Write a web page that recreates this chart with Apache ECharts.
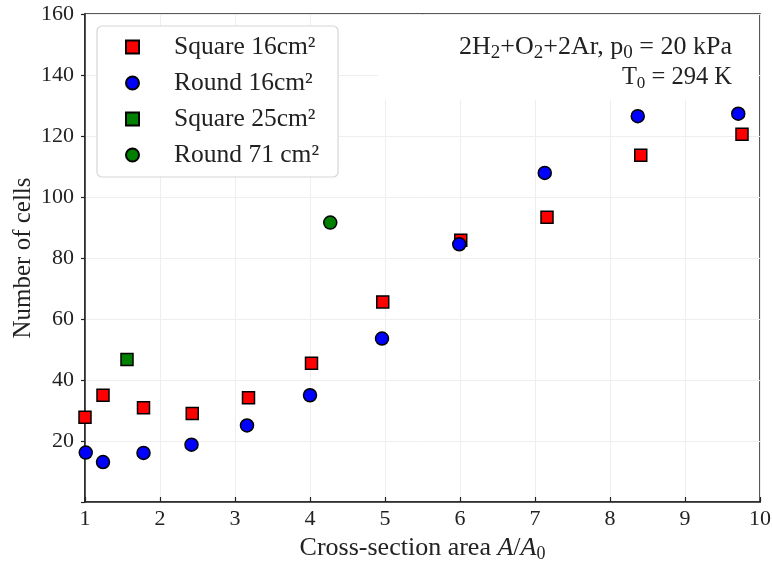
<!DOCTYPE html>
<html>
<head>
<meta charset="utf-8">
<script src="https://cdn.jsdelivr.net/npm/echarts@6/dist/echarts.min.js"></script>
<style>
  html, body { margin: 0; padding: 0; background: #fff; }
  #main { width: 772px; height: 563px; }
</style>
</head>
<body>
<div id="main"></div>
<script>
// data: [A/A0, number of cells]
var square16 = [[1.00, 27.8], [1.24, 35.0], [1.78, 30.9], [2.43, 29.0], [3.18, 34.2],
                [4.02, 45.5], [4.97, 65.6], [6.01, 85.8], [7.16, 93.4], [8.41, 113.7], [9.76, 120.6]];
var round16 = [[1.01, 16.2], [1.24, 13.1], [1.78, 16.1], [2.42, 18.8], [3.16, 25.1],
               [4.00, 35.0], [4.96, 53.6], [5.99, 84.5], [7.13, 107.9], [8.37, 126.5], [9.71, 127.3]];
var square25 = [[1.56, 46.7]];
var round71 = [[4.27, 91.6]];

var seriesNames = ['Square 16cm²', 'Round 16cm²', 'Square 25cm²', 'Round 71 cm²'];
var xTicks = [1, 2, 3, 4, 5, 6, 7, 8, 9, 10];
var yTicks = [20, 40, 60, 80, 100, 120, 140, 160];

var serif = '"Liberation Serif", "DejaVu Serif", serif';
var ink = '#222';

var myChart = echarts.init(document.getElementById('main'));

function pts(name, data, symbol, color, size) {
    return {
        name: name,
        type: 'scatter',
        data: data,
        symbol: symbol,
        symbolSize: size,
        itemStyle: { color: color, borderColor: '#000', borderWidth: 1.5, opacity: 1 },
        emphasis: { disabled: true }
    };
}

// rich text styles for the annotation (s = subscript)
function annRich(big, small, drop) {
    return {
        n: { fontFamily: serif, fontSize: big, fill: ink },
        s: { fontFamily: serif, fontSize: small, fill: ink, padding: [drop, 0, 0, 0] }
    };
}

myChart.setOption({
    animation: false,
    backgroundColor: '#fff',
    grid: {
        left: 85, right: 12, top: 14, bottom: 61,
        outerBoundsMode: 'none',
        show: true, borderColor: ink, borderWidth: 1.5, backgroundColor: 'transparent'
    },
    legend: {
        data: seriesNames.map(function (n, i) {
            return { name: n, icon: i % 2 === 0 ? 'rect' : 'circle' };
        }),
        orient: 'vertical',
        left: 97, top: 26,
        padding: [8, 19, 9, 28],
        itemGap: 10,
        itemWidth: 13, itemHeight: 13,
        backgroundColor: '#fff',
        borderColor: '#d6d6d6', borderWidth: 1.2, borderRadius: 5,
        textStyle: { fontFamily: serif, fontSize: 25.5, color: ink, padding: [0, 0, 0, 30] }
    },
    xAxis: {
        type: 'value',
        min: 1, max: 10, interval: 1,
        name: '{n|Cross-section area }{i|A}{n|/}{i|A}{s|0}',
        nameLocation: 'middle', nameGap: 32,
        nameTextStyle: {
            rich: {
                n: { fontFamily: serif, fontSize: 26, color: ink },
                i: { fontFamily: serif, fontSize: 26, color: ink, fontStyle: 'italic' },
                s: { fontFamily: serif, fontSize: 18, color: ink, padding: [11, 0, 0, 0] }
            }
        },
        axisLine: { lineStyle: { color: ink, width: 1.5 } },
        axisTick: { inside: true, length: 5, lineStyle: { color: ink, width: 1.2 } },
        axisLabel: { fontFamily: serif, fontSize: 22, color: ink, margin: 6,
            formatter: function (v) { return xTicks.indexOf(v) >= 0 ? String(v) : ''; } },
        splitLine: { show: true, lineStyle: { color: '#eeeeee', width: 1 } }
    },
    yAxis: {
        type: 'value',
        min: 0, max: 160, interval: 20,
        name: 'Number of cells',
        nameLocation: 'middle', nameGap: 49, nameRotate: 90,
        nameMoveOverlap: false,
        nameTextStyle: { fontFamily: serif, fontSize: 25, color: ink },
        axisLine: { lineStyle: { color: ink, width: 1.5 } },
        axisTick: { inside: false, length: 4, lineStyle: { color: ink, width: 1.2 } },
        axisLabel: { fontFamily: serif, fontSize: 22, color: ink, margin: 11,
            formatter: function (v) { return yTicks.indexOf(v) >= 0 ? String(v) : ''; } },
        splitLine: { show: true, lineStyle: { color: '#eeeeee', width: 1 } }
    },
    graphic: [{
        // white box behind the annotation, hides the grid there
        type: 'rect', z: 50,
        shape: { x: 378, y: 15, width: 381, height: 85 },
        style: { fill: '#fff' }
    }, {
        type: 'text', z: 51,
        x: 732, y: 47,
        style: {
            text: '{n|2H}{s|2}{n|+O}{s|2}{n|+2Ar, p}{s|0}{n| = 20 kPa}',
            align: 'right', verticalAlign: 'middle',
            rich: annRich(26, 19, 12)
        }
    }, {
        type: 'text', z: 51,
        x: 732, y: 78,
        style: {
            text: '{n|T}{s|0}{n| = 294 K}',
            align: 'right', verticalAlign: 'middle',
            rich: annRich(24.5, 17, 11)
        }
    }],
    series: [
        pts(seriesNames[0], square16, 'rect', '#ff0000', 12),
        pts(seriesNames[1], round16, 'circle', '#0000ff', 13),
        pts(seriesNames[2], square25, 'rect', '#008000', 12),
        pts(seriesNames[3], round71, 'circle', '#008000', 13)
    ]
});
</script>
</body>
</html>
